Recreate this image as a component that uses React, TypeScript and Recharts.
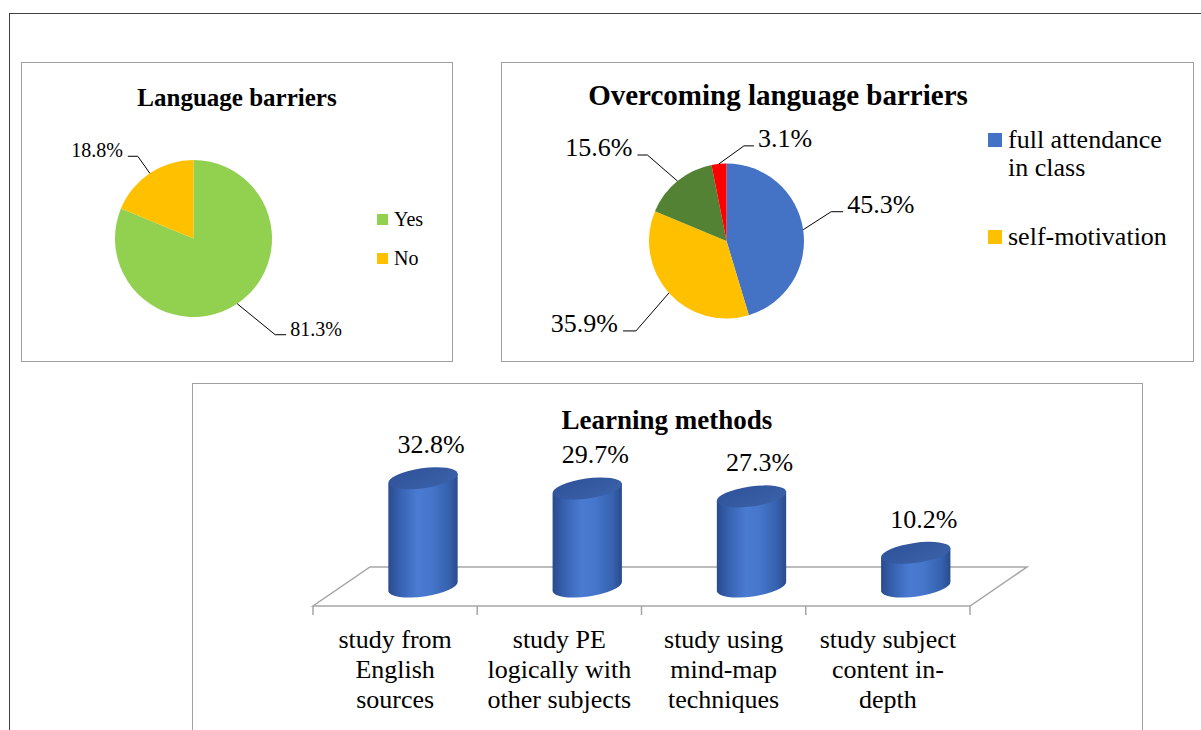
import React from "react";
import {
  PieChart,
  Pie,
  Legend,
  BarChart,
  Bar,
  XAxis,
  YAxis,
  LabelList,
  ReferenceArea,
} from "recharts";

const FONT = '"Liberation Serif", "Times New Roman", serif';
const RADIAN = Math.PI / 180;

// Language barriers
const barrierNames = ["Yes", "No"];
const barrierValues = [81.3, 18.8];
const barrierColors = ["#92D050", "#FFC000"];

// Overcoming language barriers
const overcomeNames = ["full attendance in class", "self-motivation", "other methods", "other"];
const overcomeValues = [45.3, 35.9, 15.6, 3.1];
const overcomeColors = ["#4472C4", "#FFC000", "#548235", "#FF0000"];

// Learning methods
const methodNames = [
  "study from\nEnglish\nsources",
  "study PE\nlogically with\nother subjects",
  "study using\nmind-map\ntechniques",
  "study subject\ncontent in-\ndepth",
];
const methodValues = [32.8, 29.7, 27.3, 10.2];

const barrierData = barrierNames.map((name, i) => ({ name, value: barrierValues[i], fill: barrierColors[i] }));
const overcomeData = overcomeNames.map((name, i) => ({ name, value: overcomeValues[i], fill: overcomeColors[i] }));
const methodData = methodNames.map((name, i) => ({ name, value: methodValues[i] }));

// leader line elbows (styling only)
const barrierLeaders = [
  { dx: 38, dy: 31, run: 11 },
  { dx: -12, dy: -17, run: -10 },
];
const overcomeLeaders = [
  { dx: 28, dy: -18, run: 12 },
  { dx: -33, dy: 38, run: -13 },
  { dx: -30, dy: -26, run: -10 },
  { dx: 25, dy: -18, run: 10 },
];

const makePieLabel = (leaders: any[], fontSize: number) => (props: any) => {
  const { cx, cy, midAngle, outerRadius, value, index } = props;
  const sx = cx + outerRadius * Math.cos(-midAngle * RADIAN);
  const sy = cy + outerRadius * Math.sin(-midAngle * RADIAN);
  const l = leaders[index];
  const ex = sx + l.dx;
  const ey = sy + l.dy;
  const hx = ex + l.run;
  const right = l.run > 0;
  return (
    <g>
      <polyline points={`${sx},${sy} ${ex},${ey} ${hx},${ey}`} fill="none" stroke="#000" strokeWidth={1} />
      <text
        x={right ? hx + 4 : hx - 5}
        y={ey + 1}
        textAnchor={right ? "start" : "end"}
        fontSize={fontSize}
        fontFamily={FONT}
        fill="#000"
      >
        {Number(value).toFixed(1)}%
      </text>
    </g>
  );
};

// Excel drops legend entries that do not fit, so only the first few are shown
const makeLegend =
  (names: string[], fontSize: number, box: number, gap: number, maxItems: number, textWidth: number) =>
  (props: any) => {
    const items = (props.payload || [])
      .slice()
      .sort((a: any, b: any) => names.indexOf(a.value) - names.indexOf(b.value))
      .slice(0, maxItems);
    return (
      <div style={{ fontFamily: FONT, fontSize, lineHeight: `${fontSize + 2}px`, color: "#000" }}>
        {items.map((e: any, i: number) => (
          <div key={i} style={{ display: "flex", alignItems: "flex-start", marginBottom: gap }}>
            <span
              style={{
                width: box,
                height: box,
                background: e.color,
                marginRight: 6,
                marginTop: (fontSize + 2 - box) / 2,
                flex: "none",
              }}
            />
            <span style={{ maxWidth: textWidth }}>{e.value}</span>
          </div>
        ))}
      </div>
    );
  };

// 3D floor + cylinders
const DX = 28;
const DY = -19.5;
const TILT = 8;
const PLOT_LEFT = 121;
const PLOT_RIGHT = 172;
const CHART3_W = 950;
const BAND = (CHART3_W - PLOT_LEFT - PLOT_RIGHT) / methodNames.length;

const Floor = (props: any) => {
  const { x, y, width } = props;
  const pts = [
    [x, y],
    [x + width, y],
    [x + width + 57, y - 39],
    [x + 57, y - 39],
  ]
    .map((p) => p.join(","))
    .join(" ");
  return <polygon points={pts} fill="none" stroke="#A6A6A6" strokeWidth={1.5} />;
};

const Cylinder = (props: any) => {
  const { x, y, width, height, index } = props;
  const rx = width / 2;
  const ry = 10;
  const cx = x + rx + DX;
  const top = y + DY;
  const base = y + height + DY;
  const t = TILT * RADIAN;
  const ex = rx * Math.cos(t);
  const ey = rx * Math.sin(t);
  const body = `M${cx - ex},${top + ey} L${cx - ex},${base + ey} A${rx},${ry} ${-TILT} 0 0 ${cx + ex},${base - ey} L${cx + ex},${top - ey} Z`;
  const gid = `cylBody${index}`;
  const tid = `cylTop${index}`;
  return (
    <g>
      <defs>
        <linearGradient id={gid} x1="0" y1="0" x2="1" y2="0">
          <stop offset="0" stopColor="#2A4A8E" />
          <stop offset="0.18" stopColor="#3863B2" />
          <stop offset="0.42" stopColor="#4A7BD2" />
          <stop offset="0.62" stopColor="#4576CB" />
          <stop offset="0.88" stopColor="#3560AC" />
          <stop offset="1" stopColor="#2A4A8C" />
        </linearGradient>
        <linearGradient id={tid} x1="0" y1="0" x2="1" y2="1">
          <stop offset="0" stopColor="#2F5299" />
          <stop offset="1" stopColor="#3B62AA" />
        </linearGradient>
      </defs>
      <path d={body} fill={`url(#${gid})`} />
      <ellipse cx={cx} cy={top} rx={rx} ry={ry} transform={`rotate(${-TILT} ${cx} ${top})`} fill={`url(#${tid})`} />
    </g>
  );
};

const CylinderLabel = (props: any) => {
  const vb = props.viewBox || props;
  const x = props.x ?? vb.x;
  const y = props.y ?? vb.y;
  const width = props.width ?? vb.width;
  return (
    <text
      x={x + width / 2 + DX + 8}
      y={y + DY - 25}
      textAnchor="middle"
      fontSize={26}
      fontFamily={FONT}
      fill="#000"
    >
      {Number(props.value).toFixed(1)}%
    </text>
  );
};

const CategoryTick = (props: any) => {
  const { x, y, payload, index } = props;
  const lines = String(payload.value).split("\n");
  const half = BAND / 2;
  return (
    <g>
      <line x1={x - half} y1={y - 8} x2={x - half} y2={y + 1} stroke="#A6A6A6" strokeWidth={1.5} />
      {index === methodNames.length - 1 && (
        <line x1={x + half} y1={y - 8} x2={x + half} y2={y + 1} stroke="#A6A6A6" strokeWidth={1.5} />
      )}
      <text x={x} y={y + 34} textAnchor="middle" fontSize={26} fontFamily={FONT} fill="#000">
        {lines.map((l, i) => (
          <tspan key={i} x={x} dy={i === 0 ? 0 : 30}>
            {l}
          </tspan>
        ))}
      </text>
    </g>
  );
};

const panel = (left: number, top: number, width: number, height: number): React.CSSProperties => ({
  position: "absolute",
  left,
  top,
  width,
  height,
  border: "1px solid #A0A0A0",
  boxSizing: "border-box",
});

const title = (cx: number, top: number, size: number): React.CSSProperties => ({
  position: "absolute",
  left: cx - 300,
  top,
  width: 600,
  textAlign: "center",
  fontFamily: FONT,
  fontWeight: "bold",
  fontSize: size,
  lineHeight: `${size}px`,
  color: "#000",
});

export default function App() {
  return (
    <div
      style={{
        position: "absolute",
        left: 0,
        top: 0,
        width: 1201,
        height: 730,
        background: "#fff",
        overflow: "hidden",
      }}
    >
      <div
        style={{
          position: "absolute",
          left: 9,
          top: 13,
          width: 1220,
          height: 760,
          borderLeft: "1.5px solid #404040",
          borderTop: "1.5px solid #404040",
        }}
      />
      <div style={panel(21, 62, 432, 300)} />
      <div style={panel(501, 62, 693, 300)} />
      <div style={panel(192, 383, 951, 380)} />

      <div style={title(237, 85, 25)}>Language barriers</div>
      <div style={title(778, 81, 29)}>Overcoming language barriers</div>
      <div style={title(667, 407, 27)}>Learning methods</div>

      <div style={{ position: "absolute", left: 21, top: 62 }}>
        <PieChart width={431} height={299} margin={{ top: 0, right: 0, bottom: 0, left: 0 }}>
          <Pie
            data={barrierData}
            dataKey="value"
            nameKey="name"
            cx={172.5}
            cy={176.5}
            outerRadius={78.5}
            startAngle={90}
            endAngle={-270}
            stroke="none"
            labelLine={false}
            label={makePieLabel(barrierLeaders, 20)}
            isAnimationActive={false}
          />
          <Legend
            layout="vertical"
            align="right"
            verticalAlign="top"
            content={makeLegend(barrierNames, 20, 11, 17, 2, 100)}
            wrapperStyle={{ left: 356, top: 146, width: 70 }}
          />
        </PieChart>
      </div>

      <div style={{ position: "absolute", left: 501, top: 62 }}>
        <PieChart width={692} height={299} margin={{ top: 0, right: 0, bottom: 0, left: 0 }}>
          <Pie
            data={overcomeData}
            dataKey="value"
            nameKey="name"
            cx={225.5}
            cy={179}
            outerRadius={77.5}
            startAngle={90}
            endAngle={-270}
            stroke="none"
            labelLine={false}
            label={makePieLabel(overcomeLeaders, 26)}
            isAnimationActive={false}
          />
          <Legend
            layout="vertical"
            align="right"
            verticalAlign="top"
            content={makeLegend(overcomeNames, 26, 14, 41, 2, 168)}
            wrapperStyle={{ left: 487, top: 64, width: 200 }}
          />
        </PieChart>
      </div>

      <div style={{ position: "absolute", left: 192, top: 383 }}>
        <BarChart
          width={CHART3_W}
          height={347}
          data={methodData}
          margin={{ top: 58, right: PLOT_RIGHT, bottom: 24, left: PLOT_LEFT }}
          barSize={70}
        >
          <XAxis
            dataKey="name"
            axisLine={false}
            tickLine={false}
            interval={0}
            height={100}
            tick={<CategoryTick />}
          />
          <YAxis hide domain={[0, 50]} />
          <ReferenceArea y1={0} y2={0} ifOverflow="visible" shape={<Floor />} />
          <Bar dataKey="value" shape={<Cylinder />} isAnimationActive={false}>
            <LabelList dataKey="value" content={<CylinderLabel />} />
          </Bar>
        </BarChart>
      </div>
    </div>
  );
}
